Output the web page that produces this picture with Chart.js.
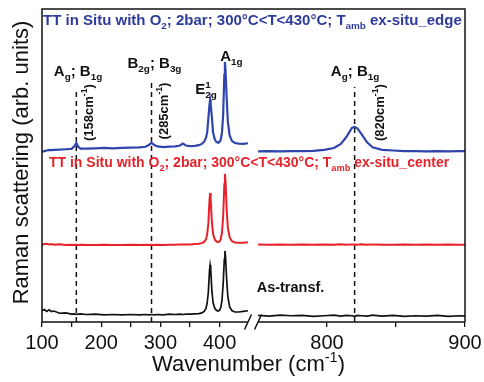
<!DOCTYPE html>
<html>
<head>
<meta charset="utf-8">
<script src="https://cdn.jsdelivr.net/npm/chart.js@4.4.1/dist/chart.umd.min.js"></script>
<style>
  html, body { margin: 0; padding: 0; background: #fff; }
  canvas { display: block; }
</style>
</head>
<body>
<canvas id="raman" width="484" height="382"></canvas>
<script>
// ---- Raman shift sampling, low-frequency window (cm^-1) ----
const lowShift = [100,104,108,112,116,120,130,140,150,155,158,161,165,175,190,205,220,235,250,265,
  275,281,285,289,295,305,315,325,333,338,343,350,358,365,370,374,377,379,381,383,384,385,387,389,
  392,395,398,400,402,404,406,408,409,410,412,414,417,421,426,432,440,448];

// Annealed in situ (O2, 2 bar) - flake edge (offset spectrum)
const edgeLow = [54.3,54.6,54.8,55.0,54.9,55.0,55.1,55.2,55.3,56.2,57.2,56.0,55.4,55.4,55.5,55.6,55.5,55.6,55.7,55.8,
  56.0,56.6,57.3,56.6,56.1,55.9,56.0,56.1,56.4,57.0,56.4,56.2,56.3,56.5,56.9,57.6,58.8,60.5,65.0,69.5,70.9,69.5,65.5,60.5,
  58.3,57.5,57.3,57.6,58.3,60.5,66.0,79.0,83.1,80.5,71.5,64.0,59.6,57.8,57.2,57.0,56.9,57.1];

// Annealed in situ (O2, 2 bar) - flake center (offset spectrum)
const centerLow = [24.7,24.9,25.0,24.8,24.9,24.7,24.8,24.6,24.7,24.6,24.7,24.6,24.7,24.6,24.6,24.7,24.6,24.6,24.7,24.6,
  24.7,24.6,24.7,24.6,24.7,24.6,24.7,24.7,24.8,24.8,24.8,24.8,24.9,25.0,25.2,25.6,26.4,28.0,31.5,39.0,41.2,39.0,32.0,28.2,
  26.3,25.7,25.5,25.8,26.5,28.5,33.5,44.0,47.3,45.0,36.0,30.0,27.0,25.8,25.4,25.3,25.3,25.5];

// As-transferred film
const asTransfLow = [3.6,4.0,3.4,3.9,3.3,3.5,2.8,2.9,2.5,2.6,2.4,2.5,2.6,2.4,2.5,2.3,2.4,2.3,2.4,2.3,
  2.4,2.3,2.4,2.3,2.4,2.3,2.5,2.4,2.5,2.4,2.5,2.5,2.6,2.7,2.9,3.4,4.3,6.0,9.5,16.5,18.2,16.8,10.0,6.2,
  4.3,3.7,3.5,3.8,4.6,6.8,12.0,20.0,22.7,21.0,13.5,8.0,4.8,3.6,3.2,3.2,3.4,3.6];

// ---- Raman shift sampling, high-frequency window (cm^-1) ----
const highShift = [750,758,766,774,782,790,798,805,810,814,818,820,822,825,829,833,840,848,856,864,872,880,888,896,900];
const edgeHigh = [54.5,54.6,54.5,54.6,54.6,54.7,55.0,55.6,56.9,59.1,62.0,62.3,61.9,60.0,57.4,55.8,55.0,54.8,54.6,54.6,54.5,54.6,54.5,54.6,54.6];
const centerHigh = [24.8,24.7,24.8,24.7,24.8,24.7,24.8,24.7,24.8,24.7,24.8,24.8,24.7,24.8,24.7,24.8,24.7,24.7,24.8,24.7,24.8,24.7,24.8,24.7,24.7];
const asTransfHigh = [2.1,1.9,2.2,2.0,2.1,1.8,2.0,2.2,1.9,2.1,2.0,1.8,2.1,2.0,1.9,2.2,1.9,2.1,1.8,2.0,1.9,2.1,1.8,2.0,1.9];

// Reference mode positions (cm^-1) marked by dashed guides
const modeShifts = [158, 285, 820];

// Axis ticks
const lowTicks = [100, 150, 200, 250, 300, 350, 400];
const highTicks = [800, 850, 900];
const tickLabels = [100, 200, 300, 400, 800, 900];

// ---- styling ----
const FONT = "'Liberation Sans', Arial, Helvetica, sans-serif";
const BLUE = '#2f45ad', BLUE_TXT = '#2d3c9c';
const RED = '#e8202a', RED_TXT = '#e3242b';
const INK = '#111111';

const zip = (xs, ys) => xs.map((x, i) => ({ x, y: ys[i] }));
const spectrum = (xs, ys, axis, color, width) => ({
  data: zip(xs, ys), xAxisID: axis, yAxisID: 'y',
  borderColor: color, borderWidth: width, pointRadius: 0, tension: 0, fill: false
});

// dashed guides: heights of each guide and the axis it belongs to
const guideTops = [74.1, 76.4, 75.1];
const guideAxes = ['xL', 'xL', 'xR'];
const guides = modeShifts.map((m, i) => ({
  data: [{ x: m, y: 0 }, { x: m, y: guideTops[i] }], xAxisID: guideAxes[i], yAxisID: 'y',
  borderColor: INK, borderWidth: 1.5, borderDash: [5, 4], pointRadius: 0, fill: false
}));

// text annotations placed in data coordinates
const annotations = [
  { text: 'TT in Situ with O_{2}; 2bar; 300°C<T<430°C; T_{amb} ex-situ_edge', ax: 'xL', x: 101.7, y: 94.9, size: 15, color: BLUE_TXT, align: 'left' },
  { text: 'TT in Situ with O_{2}; 2bar; 300°C<T<430°C; T_{amb} ex-situ_center', ax: 'xL', x: 111.8, y: 49.6, size: 14, color: RED_TXT, align: 'left' },
  { text: 'As-transf.', ax: 'xR', x: 749, y: 9.6, size: 14.5, color: INK, align: 'left' },
  { text: 'A_{g}; B_{1g}', ax: 'xL', x: 160.8, y: 78.6, size: 15, color: INK, align: 'center' },
  { text: 'B_{2g}; B_{3g}', ax: 'xL', x: 290, y: 81.2, size: 15, color: INK, align: 'center' },
  { text: 'E^{1}_{2g}', ax: 'xL', x: 377, y: 72.8, size: 15, color: INK, align: 'center' },
  { text: 'A_{1g}', ax: 'xL', x: 420, y: 83.4, size: 15, color: INK, align: 'center' },
  { text: 'A_{g}; B_{1g}', ax: 'xR', x: 820.3, y: 78.6, size: 15, color: INK, align: 'center' },
  { text: '(158cm^{-1})', ax: 'xL', x: 177.7, y: 66.9, size: 13, color: INK, align: 'center', rotate: true },
  { text: '(285cm^{-1})', ax: 'xL', x: 304.4, y: 67.4, size: 13, color: INK, align: 'center', rotate: true },
  { text: '(820cm^{-1})', ax: 'xR', x: 837.7, y: 66.9, size: 13, color: INK, align: 'center', rotate: true }
];

// ---- rich text (sub/superscripts) ----
function parseRich(s) {
  const runs = []; let buf = '', i = 0;
  while (i < s.length) {
    const c = s[i];
    if ((c === '_' || c === '^') && s[i + 1] === '{') {
      if (buf) { runs.push({ t: buf, k: 'n' }); buf = ''; }
      const j = s.indexOf('}', i);
      runs.push({ t: s.slice(i + 2, j), k: c === '_' ? 'sub' : 'sup' });
      i = j + 1;
    } else { buf += c; i++; }
  }
  if (buf) runs.push({ t: buf, k: 'n' });
  return runs;
}

function drawRich(ctx, text, x, y, o) {
  const weight = o.weight || 'bold';
  const size = o.size, small = size * 0.66;
  const runs = parseRich(text);
  let cx = 0, prev = null;
  const placed = [];
  for (const r of runs) {
    const fs = r.k === 'n' ? size : small;
    ctx.font = `${weight} ${fs}px ${FONT}`;
    const w = ctx.measureText(r.t).width;
    let x0 = cx;
    if (r.k === 'sub' && prev && prev.k === 'sup') {
      x0 = prev.x0; cx = Math.max(cx, x0 + w);
    } else cx += w;
    const dy = r.k === 'sub' ? size * 0.27 : r.k === 'sup' ? -size * 0.42 : 0;
    const p = { t: r.t, k: r.k, x0, fs, dy };
    placed.push(p); prev = p;
  }
  const off = o.align === 'center' ? -cx / 2 : o.align === 'right' ? -cx : 0;
  ctx.save();
  ctx.translate(x, y);
  if (o.rotate) ctx.rotate(-Math.PI / 2);
  ctx.fillStyle = o.color;
  ctx.textAlign = 'left';
  ctx.textBaseline = 'alphabetic';
  const base = o.rotate ? size * 0.36 : 0;
  for (const p of placed) {
    ctx.font = `${weight} ${p.fs}px ${FONT}`;
    ctx.fillText(p.t, off + p.x0, base + p.dy);
  }
  ctx.restore();
}

// frame, broken axis, annotations and axis titles
const decorations = {
  id: 'decorations',
  afterDatasetsDraw(chart) {
    const { ctx, chartArea: a, scales } = chart;
    const xL = scales.xL, xR = scales.xR, yS = scales.y;
    ctx.save();
    ctx.strokeStyle = INK; ctx.lineWidth = 1.5; ctx.setLineDash([]);
    ctx.beginPath();
    ctx.moveTo(a.left, a.bottom); ctx.lineTo(a.left, a.top);
    ctx.lineTo(a.right, a.top); ctx.lineTo(a.right, a.bottom);
    const gapL = xL.getPixelForValue(lowShift[lowShift.length - 1]);
    const gapR = xR.getPixelForValue(highShift[0]);
    ctx.moveTo(a.left, a.bottom); ctx.lineTo(gapL, a.bottom);
    ctx.moveTo(gapR, a.bottom); ctx.lineTo(a.right, a.bottom);
    for (const gx of [gapL, gapR]) {
      ctx.moveTo(gx - 3.5, a.bottom + 7.5);
      ctx.lineTo(gx + 3.5, a.bottom - 7.5);
    }
    ctx.stroke();
    ctx.restore();

    for (const an of annotations) {
      drawRich(ctx, an.text, scales[an.ax].getPixelForValue(an.x), yS.getPixelForValue(an.y), an);
    }

    const cx = (a.left + a.right) / 2;
    drawRich(ctx, 'Wavenumber (cm^{-1})', cx - 5, 371, { size: 22, color: INK, align: 'center', weight: 'normal' });
    drawRich(ctx, 'Raman scattering (arb. units)', 20, (a.top + a.bottom) / 2 - 3,
      { size: 22, color: INK, align: 'center', weight: 'normal', rotate: true });
  }
};

const tickFont = { family: FONT, size: 20 };
const xAxis = (min, max, ticks) => ({
  type: 'linear', position: 'bottom', stack: 'wavenumber', stackWeight: 1,
  min, max,
  afterBuildTicks: s => { s.ticks = ticks.map(v => ({ value: v })); },
  afterFit: s => { s.height = 30; s.paddingLeft = 0; s.paddingRight = 0; },
  border: { display: false },
  grid: { drawOnChartArea: false, drawTicks: true, tickLength: 5, color: INK, lineWidth: 1.3 },
  ticks: {
    autoSkip: false, maxRotation: 0, padding: 4, color: INK, font: tickFont,
    callback: v => tickLabels.includes(v) ? String(v) : ''
  }
});

new Chart(document.getElementById('raman'), {
  type: 'line',
  data: {
    datasets: [
      spectrum(lowShift, edgeLow, 'xL', BLUE, 2.2),
      spectrum(highShift, edgeHigh, 'xR', BLUE, 2.2),
      spectrum(lowShift, centerLow, 'xL', RED, 2),
      spectrum(highShift, centerHigh, 'xR', RED, 2),
      spectrum(lowShift, asTransfLow, 'xL', INK, 1.7),
      spectrum(highShift, asTransfHigh, 'xR', INK, 1.7),
      ...guides
    ]
  },
  options: {
    responsive: false,
    animation: false,
    layout: { padding: { left: 42, right: 19, top: 9, bottom: 30 } },
    plugins: { legend: { display: false }, tooltip: { enabled: false } },
    scales: {
      xL: xAxis(100, 457.3, lowTicks),
      xR: xAxis(746.7, 900, highTicks),
      y: { display: false, min: 0, max: 100 }
    }
  },
  plugins: [decorations]
});
</script>
</body>
</html>
